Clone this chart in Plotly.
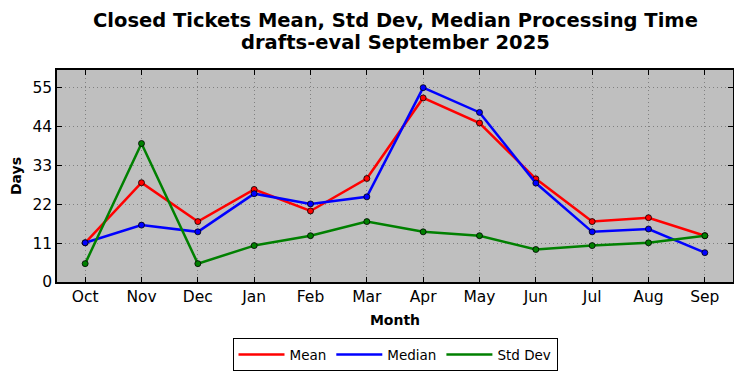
import plotly.graph_objects as go

months = ["Oct", "Nov", "Dec", "Jan", "Feb", "Mar", "Apr", "May", "Jun", "Jul", "Aug", "Sep"]
mean_vals = [11.1, 28.1, 17.1, 26.2, 20.1, 29.3, 52.1, 45.0, 29.2, 17.1, 18.2, 13.1]
median_vals = [11.1, 16.1, 14.2, 25.0, 22.1, 24.1, 55.0, 48.0, 28.0, 14.2, 15.0, 8.3]
std_vals = [5.2, 39.2, 5.2, 10.3, 13.1, 17.1, 14.2, 13.1, 9.2, 10.3, 11.1, 13.1]
y_ticks = [0, 11, 22, 33, 44, 55]

fig = go.Figure()
series = [("Mean", mean_vals, "red"), ("Median", median_vals, "blue"), ("Std Dev", std_vals, "green")]
for name, vals, color in series:
    fig.add_trace(go.Scatter(
        x=list(range(len(months))), y=vals, name=name, mode="lines+markers",
        line=dict(color=color, width=2.5),
        marker=dict(color=color, size=6, line=dict(color="black", width=0.8)),
        showlegend=False,
    ))
for name, vals, color in series:
    fig.add_trace(go.Scatter(
        x=[None], y=[None], name=name, mode="lines",
        line=dict(color=color, width=2.5), showlegend=True,
    ))

font_family = "DejaVu Sans"
# page body has an 8px default margin, so the figure is sized 8px smaller
fig.update_layout(
    width=734, height=370,
    margin=dict(l=49, r=9, t=62, b=96, autoexpand=False),
    paper_bgcolor="white", plot_bgcolor="#bfbfbf",
    font=dict(family=font_family, color="black"),
    showlegend=True,
    legend=dict(
        orientation="h", x=0.5, xanchor="center", y=0.018, yanchor="bottom",
        xref="paper", yref="container",
        bordercolor="black", borderwidth=1, bgcolor="white",
        font=dict(size=13.5), itemwidth=46, tracegroupgap=0,
    ),
    annotations=[
        dict(
            text="<b>Closed Tickets Mean, Std Dev, Median Processing Time</b>",
            xref="paper", yref="paper", x=0.5, xanchor="center",
            y=1.232, yanchor="middle", showarrow=False,
            font=dict(size=19.5, family=font_family),
        ),
        dict(
            text="<b>drafts-eval September 2025</b>",
            xref="paper", yref="paper", x=0.5, xanchor="center",
            y=1.128, yanchor="middle", showarrow=False,
            font=dict(size=19.5, family=font_family),
        ),
    ],
)
fig.update_xaxes(
    tickmode="array", tickvals=list(range(len(months))), ticktext=months,
    range=[-0.5, 11.5], showline=True, linecolor="black", linewidth=1.5, mirror="ticks",
    ticks="inside", ticklen=5, tickcolor="black",
    showgrid=True, gridcolor="#808080", griddash="1px,3px", gridwidth=1,
    tickfont=dict(size=15.5), zeroline=False, automargin=False,
    title=dict(text="<b>Month</b>", font=dict(size=14), standoff=10),
)
fig.update_yaxes(
    tickmode="array", tickvals=y_ticks, range=[0, 60],
    showline=True, linecolor="black", linewidth=1.5, mirror="ticks",
    ticks="inside", ticklen=5, tickcolor="black",
    showgrid=True, gridcolor="#808080", griddash="1px,3px", gridwidth=1,
    tickfont=dict(size=15.5), zeroline=False, automargin=False,
    title=dict(text="<b>Days</b>", font=dict(size=14), standoff=9),
)
fig.write_html("out.html")
